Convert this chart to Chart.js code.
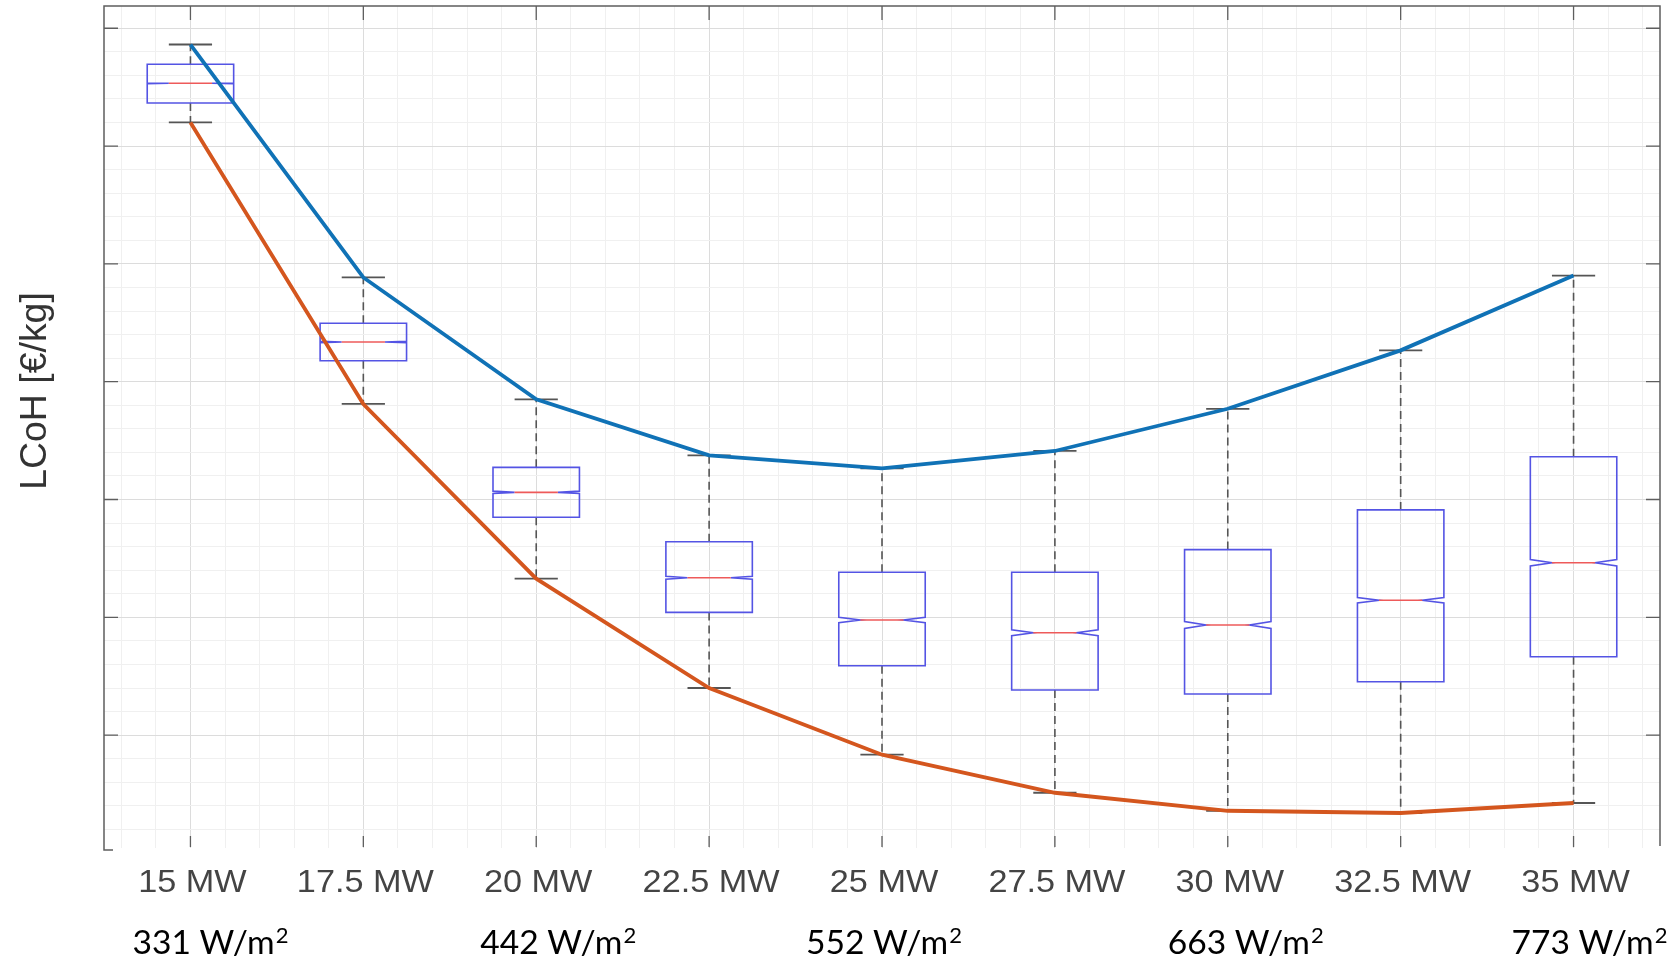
<!DOCTYPE html>
<html>
<head>
<meta charset="utf-8">
<script src="https://cdn.jsdelivr.net/npm/chart.js@4.4.1/dist/chart.umd.min.js"></script>
<style>
  html, body { margin: 0; padding: 0; background: #ffffff; }
  #wrap { width: 1670px; height: 960px; }
</style>
</head>
<body>
<div id="wrap"><canvas id="c" width="1670" height="960"></canvas></div>
<script>
// ---------------- data ----------------
const categories = ['15 MW', '17.5 MW', '20 MW', '22.5 MW', '25 MW', '27.5 MW', '30 MW', '32.5 MW', '35 MW'];
// power density labels: base text + superscript exponent
const powerDensityLabels = ['331 W/m', '', '442 W/m', '', '552 W/m', '', '663 W/m', '', '773 W/m'];
const powerDensityExponent = '2';

const whiskerHigh = [6.862, 4.885, 3.850, 3.375, 3.265, 3.412, 3.770, 4.266, 4.901];
const q3          = [6.694, 4.496, 3.273, 2.642, 2.382, 2.383, 2.575, 2.912, 3.363];
const median      = [6.533, 4.337, 3.061, 2.336, 1.977, 1.869, 1.935, 2.145, 2.463];
const q1          = [6.366, 4.178, 2.849, 2.042, 1.589, 1.383, 1.349, 1.453, 1.665];
const whiskerLow  = [6.201, 3.811, 2.328, 1.400, 0.834, 0.511, 0.358, 0.339, 0.424];
const notchLow    = [6.530, 4.332, 3.051, 2.323, 1.954, 1.844, 1.905, 2.122, 2.436];
const notchHigh   = [6.536, 4.342, 3.071, 2.349, 2.000, 1.894, 1.965, 2.168, 2.490];

const yMajorTicks = [1, 2, 3, 4, 5, 6, 7];
const yTitle = 'LCoH [€/kg]';

// ---------------- styling / layout ----------------
const areaLabelDx = [20, 0, 22, 0, 2, 0, 18, 0, 16];
const STYLE = {
  box: 'rgb(84,84,228)',
  median: 'rgb(238,90,90)',
  whisker: 'rgb(85,85,85)',
  maxLine: 'rgb(16,114,182)',
  minLine: 'rgb(212,86,30)',
  gridMajor: '#dcdcdc',
  gridMinor: '#f0f0f0',
  frame: '#5e5e5e',
  tickLabel: '#444444',
  areaLabel: '#000000',
  title: '#333333'
};

function minorTicks(from, to) {
  const t = [];
  for (let k = from; k <= to; k++) t.push({ value: k / 5 });
  return t;
}
function gridColor(ctx) {
  const v = ctx.tick ? ctx.tick.value : 0;
  const k = Math.round(v * 5);
  return (k % 5 === 0) ? STYLE.gridMajor : STYLE.gridMinor;
}

const boxPlugin = {
  id: 'notchedBoxes',
  beforeDatasetsDraw(chart) {
    const ctx = chart.ctx;
    const xs = chart.scales.x, ys = chart.scales.y;
    ctx.save();
    categories.forEach((c, i) => {
      const xc = xs.getPixelForValue(i);
      const xl = xs.getPixelForValue(i - 0.25);
      const xr = xs.getPixelForValue(i + 0.25);
      const capL = xs.getPixelForValue(i - 0.125);
      const capR = xs.getPixelForValue(i + 0.125);
      const nl = xs.getPixelForValue(i - 0.125);
      const nr = xs.getPixelForValue(i + 0.125);
      const yHi = ys.getPixelForValue(whiskerHigh[i]);
      const yQ3 = ys.getPixelForValue(q3[i]);
      const yMed = ys.getPixelForValue(median[i]);
      const yQ1 = ys.getPixelForValue(q1[i]);
      const yLo = ys.getPixelForValue(whiskerLow[i]);
      const yNl = ys.getPixelForValue(notchLow[i]);
      const yNh = ys.getPixelForValue(notchHigh[i]);

      ctx.strokeStyle = STYLE.whisker;
      ctx.lineWidth = 1.6;
      ctx.setLineDash([8, 5]);
      ctx.beginPath();
      ctx.moveTo(xc, yQ3); ctx.lineTo(xc, yHi);
      ctx.moveTo(xc, yQ1); ctx.lineTo(xc, yLo);
      ctx.stroke();
      ctx.setLineDash([]);
      ctx.lineWidth = 1.8;
      ctx.beginPath();
      ctx.moveTo(capL, yHi); ctx.lineTo(capR, yHi);
      ctx.moveTo(capL, yLo); ctx.lineTo(capR, yLo);
      ctx.stroke();

      ctx.strokeStyle = STYLE.box;
      ctx.lineWidth = 1.6;
      ctx.beginPath();
      ctx.moveTo(xl, yQ1);
      ctx.lineTo(xl, yNl);
      ctx.lineTo(nl, yMed);
      ctx.lineTo(xl, yNh);
      ctx.lineTo(xl, yQ3);
      ctx.lineTo(xr, yQ3);
      ctx.lineTo(xr, yNh);
      ctx.lineTo(nr, yMed);
      ctx.lineTo(xr, yNl);
      ctx.lineTo(xr, yQ1);
      ctx.closePath();
      ctx.stroke();

      ctx.strokeStyle = STYLE.median;
      ctx.lineWidth = 1.6;
      ctx.beginPath();
      ctx.moveTo(nl, yMed); ctx.lineTo(nr, yMed);
      ctx.stroke();
    });
    ctx.restore();
  }
};

const framePlugin = {
  id: 'matlabFrame',
  afterDatasetsDraw(chart) {
    const ctx = chart.ctx;
    const a = chart.chartArea;
    const xs = chart.scales.x, ys = chart.scales.y;
    ctx.save();
    ctx.strokeStyle = STYLE.frame;
    ctx.lineWidth = 1.5;
    ctx.beginPath();
    ctx.moveTo(a.left + 9, a.bottom + 2);
    ctx.lineTo(a.left, a.bottom + 2);
    ctx.lineTo(a.left, a.top);
    ctx.lineTo(a.right, a.top);
    ctx.lineTo(a.right, a.bottom - 2);
    ctx.stroke();
    ctx.lineWidth = 1.3;
    ctx.beginPath();
    categories.forEach((c, i) => {
      const x = xs.getPixelForValue(i);
      ctx.moveTo(x, a.top); ctx.lineTo(x, a.top + 14);
      ctx.moveTo(x, a.bottom - 1); ctx.lineTo(x, a.bottom - 12);
    });
    yMajorTicks.forEach(v => {
      const y = ys.getPixelForValue(v);
      ctx.moveTo(a.left, y); ctx.lineTo(a.left + 14, y);
      ctx.moveTo(a.right, y); ctx.lineTo(a.right - 14, y);
    });
    ctx.stroke();

    // category labels
    ctx.textAlign = 'center';
    ctx.textBaseline = 'alphabetic';
    ctx.fillStyle = STYLE.tickLabel;
    ctx.font = '32px "Liberation Sans", Arial, sans-serif';
    categories.forEach((c, i) => {
      const x = xs.getPixelForValue(i) + 2;
      ctx.save();
      ctx.translate(x, 891.5);
      ctx.scale(1.07, 1);
      ctx.fillText(c, 0, 0);
      ctx.restore();
    });
    // power density labels with superscript exponent
    ctx.fillStyle = STYLE.areaLabel;
    ctx.textAlign = 'left';
    const mainFont = '32px Lato, "Open Sans", sans-serif';
    const supFont = '21px Lato, "Open Sans", sans-serif';
    powerDensityLabels.forEach((t, i) => {
      if (!t) return;
      ctx.font = mainFont;
      const w1 = ctx.measureText(t).width;
      ctx.font = supFont;
      const w2 = ctx.measureText(powerDensityExponent).width;
      const total = w1 + w2 + 1;
      const x = xs.getPixelForValue(i) + areaLabelDx[i];
      ctx.save();
      ctx.translate(x, 953.5);
      ctx.scale(1.05, 1);
      ctx.font = mainFont;
      ctx.fillText(t, -total / 2, 0);
      ctx.font = supFont;
      ctx.fillText(powerDensityExponent, -total / 2 + w1 + 1, -10.5);
      ctx.restore();
    });
    // y title
    ctx.textAlign = 'center';
    ctx.fillStyle = STYLE.title;
    ctx.font = '36px "Liberation Sans", Arial, sans-serif';
    ctx.save();
    ctx.translate(46, 391);
    ctx.rotate(-Math.PI / 2);
    ctx.scale(1.04, 1);
    ctx.fillText(yTitle, 0, 0);
    ctx.restore();
    ctx.restore();
  }
};

const chart = new Chart(document.getElementById('c'), {
  type: 'line',
  data: {
    datasets: [
      {
        label: 'max',
        data: categories.map((c, i) => ({ x: i, y: whiskerHigh[i] })),
        borderColor: STYLE.maxLine,
        borderWidth: 3.8,
        pointRadius: 0,
        tension: 0,
        fill: false
      },
      {
        label: 'min',
        data: categories.map((c, i) => ({ x: i, y: whiskerLow[i] })),
        borderColor: STYLE.minLine,
        borderWidth: 3.8,
        pointRadius: 0,
        tension: 0,
        fill: false
      }
    ]
  },
  options: {
    responsive: false,
    animation: false,
    devicePixelRatio: 1,
    layout: { padding: { left: 104, right: 10, top: 6, bottom: 112 } },
    plugins: { legend: { display: false }, tooltip: { enabled: false } },
    scales: {
      x: {
        type: 'linear',
        min: -0.5,
        max: 8.5,
        afterBuildTicks: s => { s.ticks = minorTicks(-2, 42); },
        afterFit: s => { s.height = 0; },
        ticks: { display: false },
        grid: { color: gridColor, lineWidth: 1, drawTicks: false },
        border: { display: false }
      },
      y: {
        type: 'linear',
        min: 0.042,
        max: 7.189,
        afterBuildTicks: s => { s.ticks = minorTicks(1, 35); },
        afterFit: s => { s.width = 0; },
        ticks: { display: false },
        grid: { color: gridColor, lineWidth: 1, drawTicks: false },
        border: { display: false }
      }
    }
  },
  plugins: [boxPlugin, framePlugin]
});
</script>
</body>
</html>
